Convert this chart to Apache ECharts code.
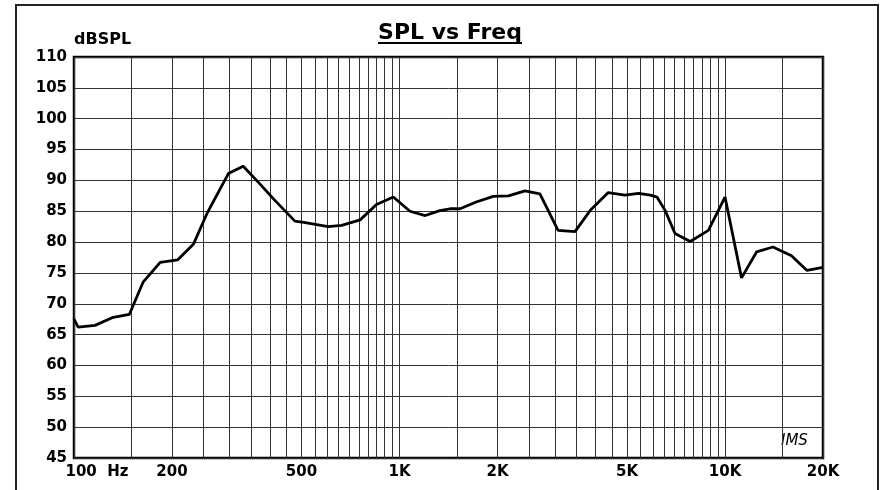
<!DOCTYPE html>
<html>
<head>
<meta charset="utf-8">
<script src="https://cdn.jsdelivr.net/npm/echarts@6/dist/echarts.min.js"></script>
<style>
  html, body { margin: 0; padding: 0; background: #fff; }
  #main { width: 882px; height: 490px; }
</style>
</head>
<body>
<div id="main"></div>
<script>
// frequency (Hz) and level (dBSPL)
var freqs = [100, 103, 116, 132, 148, 163, 184, 208, 233, 256, 298, 331, 373, 410, 477, 508,
  604, 664, 757, 850, 957, 1077, 1200, 1330, 1430, 1535, 1720, 1940, 2160, 2430, 2700,
  3070, 3460, 3850, 4370, 4930, 5420, 5900, 6180, 6550, 7020, 7820, 8890, 10000,
  11240, 12500, 14040, 16000, 17860, 20000];
var spl = [67.5, 66.2, 66.5, 67.8, 68.3, 73.5, 76.7, 77.1, 79.7, 84.6, 91.1, 92.3, 89.4, 87.0, 83.4, 83.2,
  82.5, 82.7, 83.6, 86.1, 87.3, 85.0, 84.3, 85.1, 85.4, 85.4, 86.5, 87.4, 87.5, 88.3, 87.8,
  81.9, 81.7, 85.1, 88.0, 87.6, 87.9, 87.6, 87.3, 85.1, 81.4, 80.1, 81.9, 87.3,
  74.2, 78.4, 79.2, 77.8, 75.4, 75.9];

// vertical grid lines (Hz): every 50 to 1K, every 500 to 10K, then 15K, 20K
var gridFreqs = [];
for (var f = 100; f <= 1000; f += 50) gridFreqs.push(f);
for (var f = 1500; f <= 10000; f += 500) gridFreqs.push(f);
gridFreqs.push(15000, 20000);

var tickFreqs = [100, 200, 500, 1000, 2000, 5000, 10000, 20000];
var tickNames = ['100  Hz', '200', '500', '1K', '2K', '5K', '10K', '20K'];

var chart = echarts.init(document.getElementById('main'));
var font = 'DejaVu Sans, Verdana, sans-serif';

chart.setOption({
  animation: false,
  backgroundColor: '#fff',
  title: {
    text: 'SPL vs Freq',
    left: 445,
    top: 17,
    textAlign: 'center',
    textStyle: { fontFamily: font, fontSize: 22, fontWeight: 'bold', color: '#000' }
  },
  graphic: [
    { type: 'rect', shape: { x: 16, y: 5, width: 862, height: 500 },
      style: { fill: 'none', stroke: '#222', lineWidth: 2 } },
    { type: 'line', shape: { x1: 378, y1: 43, x2: 522, y2: 43 },
      style: { stroke: '#000', lineWidth: 2 } },
    { type: 'text', left: 781, top: 434,
      style: { text: 'IMS', font: 'italic 15px ' + font, fill: '#000' } }
  ],
  grid: { left: 74, right: 59, top: 57, bottom: 32, show: true, borderColor: '#000', borderWidth: 2.5 },
  xAxis: {
    type: 'log',
    logBase: 10,
    min: 100,
    max: 20000,
    axisLine: { show: false },
    axisTick: { show: false, customValues: gridFreqs },
    splitLine: { show: true, lineStyle: { color: '#333', width: 1 } },
    axisLabel: {
      customValues: tickFreqs,
      margin: 7,
      fontFamily: font,
      fontSize: 15,
      fontWeight: 'bold',
      color: '#000',
      formatter: function (v) {
        var i = tickFreqs.indexOf(Math.round(v));
        if (i === 0) return '{hz|' + tickNames[0] + '}';
        return i >= 0 ? tickNames[i] : '';
      },
      rich: { hz: { padding: [0, 0, 0, 46], fontFamily: font, fontSize: 15, fontWeight: 'bold', color: '#000' } }
    }
  },
  yAxis: {
    type: 'value',
    min: 45,
    max: 110,
    interval: 5,
    name: 'dBSPL',
    nameLocation: 'end',
    nameGap: 9,
    nameTextStyle: { fontFamily: font, fontSize: 16, fontWeight: 'bold', color: '#000', align: 'left', verticalAlign: 'bottom' },
    axisLine: { show: false },
    axisTick: { show: false },
    splitLine: { show: true, lineStyle: { color: '#333', width: 1 } },
    axisLabel: { margin: 7, fontFamily: font, fontSize: 15, fontWeight: 'bold', color: '#000' }
  },
  series: [{
    type: 'line',
    data: freqs.map(function (f, i) { return [f, spl[i]]; }),
    showSymbol: false,
    symbol: 'none',
    lineStyle: { color: '#000', width: 2.8 },
    z: 5
  }]
});
</script>
</body>
</html>
